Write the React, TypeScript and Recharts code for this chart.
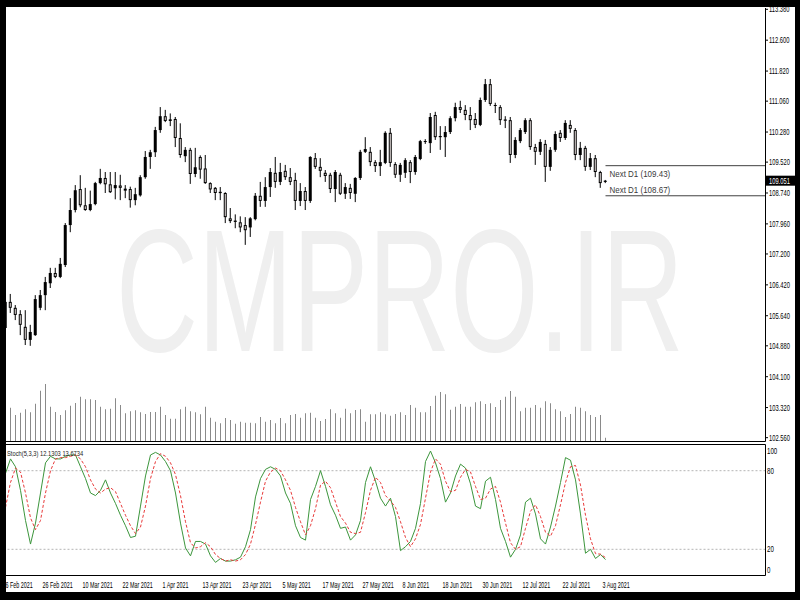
import React from 'react';
import { ComposedChart, Bar, Line, XAxis, YAxis, ReferenceLine } from 'recharts';

// ---------- data ----------
const OPEN = [
  105.33, 105.99, 105.84, 105.68, 105.36, 105.03, 105.15, 105.84, 106.16, 106.46,
  106.72, 106.62, 106.92, 107.93, 108.31, 108.84, 108.43, 108.31, 108.46, 108.99,
  109.12, 108.96, 108.86, 108.93, 108.80, 108.84, 108.56, 108.68, 109.14, 109.65,
  109.77, 110.33, 110.68, 110.56, 110.61, 110.13, 109.67, 109.83, 109.22, 109.65,
  109.36, 108.99, 108.87, 108.77, 108.74, 108.10, 108.04, 108.00, 107.93, 107.87,
  108.08, 108.67, 108.54, 108.89, 109.25, 109.02, 109.30, 109.14, 109.07, 108.54,
  108.79, 108.54, 109.62, 109.40, 109.25, 109.20, 108.84, 109.20, 108.72, 108.87,
  108.72, 109.12, 109.78, 109.78, 109.52, 109.42, 109.50, 110.26, 109.47, 109.20,
  109.25, 109.52, 109.27, 109.60, 110.03, 110.00, 110.71, 110.15, 110.15, 110.28,
  110.63, 110.91, 110.84, 110.71, 110.61, 110.46, 111.09, 111.49, 110.94, 110.91,
  110.59, 110.58, 109.70, 110.05, 110.28, 110.58, 109.90, 109.78, 109.98, 109.40,
  109.83, 110.26, 110.13, 110.46, 110.33, 109.70, 109.88, 109.40, 109.62, 109.27,
  109.02,
];
const HIGH = [
  106.05, 106.19, 105.91, 105.78, 105.78, 105.41, 106.16, 106.29, 106.62, 106.85,
  106.85, 107.10, 107.98, 108.61, 108.94, 109.19, 108.87, 108.80, 109.02, 109.35,
  109.27, 109.27, 109.27, 109.20, 108.94, 108.90, 108.87, 109.19, 109.80, 109.83,
  110.41, 110.91, 110.84, 110.75, 110.66, 110.50, 109.90, 109.88, 109.88, 109.69,
  109.70, 109.01, 108.89, 108.89, 108.76, 108.36, 108.20, 108.15, 108.13, 108.13,
  108.74, 109.02, 109.14, 109.37, 109.65, 109.50, 109.45, 109.37, 109.25, 108.99,
  108.89, 109.67, 109.75, 109.62, 109.32, 109.25, 109.32, 109.25, 108.99, 108.97,
  109.14, 109.83, 110.15, 109.90, 109.57, 109.83, 110.30, 110.38, 109.52, 109.50,
  109.62, 109.57, 109.70, 110.08, 110.10, 110.76, 110.79, 110.43, 110.43, 110.68,
  111.02, 111.07, 110.96, 110.91, 110.76, 111.15, 111.62, 111.62, 111.02, 110.96,
  110.68, 110.66, 110.15, 110.38, 110.63, 110.63, 109.98, 110.10, 110.08, 109.90,
  110.30, 110.33, 110.58, 110.58, 110.38, 110.03, 109.93, 109.75, 109.70, 109.30,
  109.07,
];
const LOW = [
  105.25, 105.71, 105.53, 105.15, 104.90, 104.88, 105.13, 105.78, 105.78, 106.34,
  106.59, 106.59, 106.87, 107.75, 108.25, 108.38, 108.29, 108.28, 108.43, 108.96,
  108.74, 108.74, 108.58, 108.56, 108.61, 108.37, 108.43, 108.65, 109.10, 109.35,
  109.65, 110.26, 110.53, 110.43, 109.90, 109.63, 109.52, 108.97, 109.14, 109.10,
  108.97, 108.74, 108.56, 108.56, 107.98, 107.98, 107.85, 107.75, 107.43, 107.63,
  108.05, 108.39, 108.39, 108.64, 108.87, 108.94, 109.07, 108.94, 108.31, 108.41,
  108.31, 108.49, 109.35, 109.14, 109.02, 108.74, 108.51, 108.69, 108.59, 108.59,
  108.51, 109.07, 109.75, 109.42, 109.27, 109.17, 109.47, 109.40, 109.12, 109.02,
  109.12, 108.99, 109.20, 109.57, 109.98, 109.75, 110.08, 109.83, 109.65, 110.23,
  110.55, 110.76, 110.58, 110.33, 110.38, 110.43, 111.04, 110.94, 110.76, 110.46,
  110.38, 109.50, 109.62, 110.00, 110.23, 109.83, 109.45, 109.70, 109.02, 109.30,
  109.78, 110.03, 110.08, 110.26, 109.57, 109.57, 109.30, 109.32, 109.14, 108.87,
  108.99,
];
const CLOSE = [
  105.99, 105.84, 105.66, 105.41, 105.03, 105.23, 106.06, 106.16, 106.49, 106.72,
  106.62, 106.95, 107.93, 108.31, 108.81, 108.43, 108.31, 108.46, 108.99, 109.12,
  108.96, 108.76, 108.94, 108.87, 108.85, 108.56, 108.71, 109.14, 109.65, 109.77,
  110.33, 110.68, 110.56, 110.60, 110.13, 109.70, 109.83, 109.22, 109.39, 109.33,
  108.99, 108.83, 108.74, 108.74, 108.13, 108.03, 108.02, 107.87, 107.80, 108.10,
  108.67, 108.54, 108.89, 109.27, 109.02, 109.27, 109.14, 109.02, 108.54, 108.79,
  108.54, 109.65, 109.40, 109.30, 109.17, 108.84, 109.27, 108.72, 108.89, 108.74,
  109.12, 109.78, 109.85, 109.52, 109.42, 109.52, 110.26, 109.50, 109.20, 109.45,
  109.57, 109.27, 109.65, 110.05, 110.05, 110.66, 110.15, 110.18, 110.28, 110.63,
  110.91, 110.84, 110.71, 110.58, 110.46, 111.09, 111.49, 110.99, 110.96, 110.58,
  110.58, 109.70, 110.08, 110.33, 110.58, 109.90, 109.78, 110.03, 109.40, 109.83,
  110.23, 110.13, 110.51, 110.36, 109.70, 109.88, 109.40, 109.62, 109.27, 108.99,
  109.051,
];
const VOLUME = [
  30, 33.3, 26, 28.3, 31.7, 28.7, 37.3, 50.3, 57, 34.3,
  29, 26, 30.7, 35.3, 38, 44.3, 41.7, 41.7, 41, 34.3,
  31.7, 32.3, 42.7, 36, 27.7, 29.7, 30.7, 28.7, 27, 29,
  29, 34.3, 26, 22.3, 22.3, 31.7, 34.3, 29.7, 28.7, 26.7,
  34.3, 23.3, 19.3, 17.7, 23, 21, 17.3, 19.3, 18.3, 18.3,
  17.7, 24, 19.3, 21, 17.7, 23, 17.7, 26, 27, 23.3,
  27.7, 28.3, 23.3, 20, 22, 31.7, 27.7, 23.3, 32.3, 27.7,
  31, 31.7, 19.3, 26.7, 26.7, 28.7, 26.7, 25.3, 27, 28.7,
  26, 36, 33.3, 28.7, 28.7, 35, 45.3, 49, 46.7, 31.3,
  34.3, 37, 34.3, 34.3, 38.7, 39.7, 37, 37.7, 34, 41,
  44.3, 50, 44.3, 29.7, 33.3, 33.3, 36, 33.3, 39.7, 37.7,
  31.7, 29.7, 24, 27, 34.3, 33.3, 29.7, 26, 24, 26,
  3.3,
];
const STOCH_K = [
  78, 89, 83, 65, 42, 24, 40, 63, 86, 91,
  89, 89, 91, 92, 92, 83, 74, 63, 61, 65,
  73, 63, 55, 46, 38, 29, 30, 53, 76, 92,
  94, 92, 87, 80, 63, 40, 21, 15, 26, 26,
  24, 15, 10, 13, 11, 11, 12, 14, 22, 35,
  60, 74, 81, 83, 81, 76, 63, 55, 38, 29,
  27, 58, 68, 80, 68, 54, 46, 36, 37, 27,
  31, 42, 71, 83, 72, 59, 53, 59, 45, 19,
  22, 26, 36, 55, 87, 95, 86, 74, 56, 63,
  76, 85, 82, 70, 53, 51, 72, 75, 58, 36,
  26, 14, 20, 31, 56, 59, 47, 28, 24, 37,
  53, 71, 90, 88, 73, 47, 17, 20, 13, 16,
  12.1303,
];
const STOCH_D = [
  52, 71, 82, 79, 63, 44, 35, 42, 63, 80,
  89, 90, 90, 91, 92, 89, 83, 73, 66, 63,
  66, 67, 64, 55, 46, 38, 32, 37, 53, 74,
  87, 93, 91, 86, 77, 61, 41, 25, 21, 22,
  25, 22, 16, 13, 11, 12, 11, 12, 16, 24,
  39, 56, 72, 79, 82, 80, 73, 65, 52, 41,
  31, 38, 51, 69, 72, 67, 56, 45, 40, 33,
  32, 33, 48, 65, 75, 71, 61, 57, 52, 41,
  29, 22, 28, 39, 59, 79, 89, 85, 72, 64,
  65, 75, 81, 79, 68, 58, 59, 66, 68, 56,
  40, 25, 20, 22, 36, 49, 54, 45, 33, 30,
  38, 54, 71, 83, 84, 69, 46, 28, 16.7, 16.3,
  13.6734,
];
const PRICE_TICKS = [113.38, 112.6, 111.82, 111.06, 110.28, 109.52, 108.74, 107.96, 107.2, 106.42, 105.64, 104.88, 104.1, 103.32, 102.56];
const STOCH_TICKS = [0, 20, 80, 100];
const TICK_BARS = [0, 8, 16, 24, 32, 40, 48, 56, 64, 72, 80, 88, 96, 104, 112, 120];
const TICK_LABELS = ['16 Feb 2021', '26 Feb 2021', '10 Mar 2021', '22 Mar 2021', '1 Apr 2021', '13 Apr 2021', '23 Apr 2021', '5 May 2021', '17 May 2021', '27 May 2021', '8 Jun 2021', '18 Jun 2021', '30 Jun 2021', '12 Jul 2021', '22 Jul 2021', '3 Aug 2021'];
const NEXT_D1_HIGH = 109.43;
const NEXT_D1_LOW = 108.67;
const PRICE_MIN = 102.463;
const PRICE_MAX = 113.413;
const SHIFT_SLOTS = 31; // empty chart-shift space on the right
const BAR_STEP = 5;

// ---------- derived table ----------
const N = OPEN.length;
const TOTAL = N + SHIFT_SLOTS;
const rows: any[] = [];
for (let n = 0; n < TOTAL; n++) {
  if (n < N) rows.push({ n, o: OPEN[n], h: HIGH[n], l: LOW[n], c: CLOSE[n], v: VOLUME[n], k: STOCH_K[n], d: STOCH_D[n] });
  else rows.push({ n });
}
const LAST = N - 1;
const LAST_SLOT = TOTAL - 1;

const FONT = '"Liberation Sans", Arial, sans-serif';

// condensed text (the reference's lettering is horizontally squeezed)
const CText = ({ x, y, size, sx, fill, children }: any) => (
  <text transform={`translate(${x} ${y}) scale(${sx} 1)`} x={0} y={0} fontSize={size} fontFamily={FONT} fill={fill}>
    {children}
  </text>
);

const candleRange = (r: any) => (r.o == null ? null : [r.l, r.h]);

const Candle = (props: any) => {
  const { x, y, width, height, payload } = props;
  if (!payload || payload.o == null || !isFinite(y) || !isFinite(height)) return null;
  const top = Math.min(y, y + height);
  const bot = Math.max(y, y + height);
  const span = payload.h - payload.l;
  const py = (p: number) => (span > 0 ? top + ((payload.h - p) / span) * (bot - top) : top);
  const cx = x + width / 2;
  const bull = payload.c >= payload.o;
  let bTop = Math.min(py(payload.o), py(payload.c));
  let bBot = Math.max(py(payload.o), py(payload.c));
  if (bBot - bTop < 1) {
    const m = (bTop + bBot) / 2;
    bTop = m - 0.5;
    bBot = m + 0.5;
  }
  return (
    <g>
      <line x1={cx} x2={cx} y1={top} y2={bot} stroke="#000" strokeWidth={1} />
      {bull ? (
        <rect x={cx - 1.5} y={bTop} width={3} height={bBot - bTop} fill="#000" />
      ) : (
        <rect x={cx - 1} y={bTop + 0.5} width={2} height={Math.max(bBot - bTop - 1, 0.3)} fill="#f1e9e7" stroke="#000" strokeWidth={1} />
      )}
    </g>
  );
};

const PriceTick = (props: any) => {
  const { x, y, payload } = props;
  return (
    <g>
      <line x1={x} x2={x + 2.5} y1={y} y2={y} stroke="#000" strokeWidth={1} />
      <CText x={x + 3.5} y={y + 3} size={8.5} sx={0.68} fill="#000">
        {Number(payload.value).toFixed(3)}
      </CText>
    </g>
  );
};

const StochTick = (props: any) => {
  const { x, y, payload } = props;
  const v = payload.value;
  const dy = v === 100 ? 9.5 : v === 0 ? -2.5 : 3;
  return (
    <CText x={x + 1.5} y={y + dy} size={8.5} sx={0.72} fill="#000">
      {v}
    </CText>
  );
};

const DateTick = (props: any) => {
  const { x, y, payload } = props;
  const idx = TICK_BARS.indexOf(payload.value);
  if (idx < 0) return null;
  return (
    <CText x={x - 3} y={y + 12.5} size={9} sx={0.6} fill="#000">
      {TICK_LABELS[idx]}
    </CText>
  );
};

const PriceBox = (props: any) => {
  const vb = props.viewBox;
  if (!vb) return null;
  const right = vb.x + vb.width;
  return (
    <g>
      <rect x={right + 0.5} y={vb.y - 5} width={29} height={10} fill="#000" />
      <CText x={right + 3.5} y={vb.y + 3.2} size={8.5} sx={0.68} fill="#fff">
        {props.txt}
      </CText>
    </g>
  );
};

const NextLabel = (props: any) => {
  const vb = props.viewBox;
  if (!vb) return null;
  return (
    <CText x={vb.x + 4} y={props.below ? vb.y + 11.5 : vb.y - 2.5} size={9.5} sx={0.84} fill="#3a3a3a">
      {props.txt}
    </CText>
  );
};

const nextLineShape = (p: any) => <line x1={p.x1} y1={p.y1} x2={p.x2 + BAR_STEP} y2={p.y2} stroke="#404040" strokeWidth={1} />;

const abs: React.CSSProperties = { position: 'absolute', left: 0, top: 0 };

export default function App() {
  return (
    <div style={{ position: 'absolute', left: 0, top: 0, width: 800, height: 600, background: '#fff', overflow: 'hidden' }}>
      {/* watermark */}
      <svg width={800} height={600} style={abs}>
        <text transform="translate(116 351) scale(0.649 1)" x={0} y={0} fontSize={175} fontFamily={FONT} fill="#efefef">
          CMPRO.IR
        </text>
      </svg>

      {/* volume */}
      <div style={abs}>
        <ComposedChart width={800} height={442} data={rows} margin={{ top: 8, right: 34.5, bottom: 1, left: 3 }}>
          <XAxis dataKey="n" type="category" scale="band" hide padding={{ left: 0, right: 2.5 }} />
          <YAxis type="number" hide domain={[0, 433]} allowDataOverflow />
          <Bar dataKey="v" barSize={1} fill="#8a8a8a" isAnimationActive={false} />
        </ComposedChart>
      </div>

      {/* candles */}
      <div style={abs}>
        <ComposedChart width={800} height={442} data={rows} margin={{ top: 8, right: 5, bottom: 0.5, left: 3 }}>
          <XAxis dataKey="n" type="category" scale="band" hide padding={{ left: 0, right: 2.5 }} />
          <YAxis
            yAxisId="p"
            orientation="right"
            type="number"
            domain={[PRICE_MIN, PRICE_MAX]}
            allowDataOverflow
            ticks={PRICE_TICKS}
            interval={0}
            width={29.5}
            tickSize={0}
            tickMargin={0}
            tickLine={false}
            axisLine={{ stroke: '#000' }}
            tick={<PriceTick />}
          />
          <Bar yAxisId="p" dataKey={candleRange} barSize={5} shape={<Candle />} isAnimationActive={false} />
          <ReferenceLine yAxisId="p" y={PRICE_MIN} stroke="#000" strokeWidth={1} />
          <ReferenceLine
            yAxisId="p"
            segment={[{ x: LAST, y: NEXT_D1_HIGH }, { x: LAST_SLOT, y: NEXT_D1_HIGH }]}
            shape={nextLineShape}
            label={<NextLabel txt={`Next D1 (${NEXT_D1_HIGH.toFixed(2)})`} below />}
          />
          <ReferenceLine
            yAxisId="p"
            segment={[{ x: LAST, y: NEXT_D1_LOW }, { x: LAST_SLOT, y: NEXT_D1_LOW }]}
            shape={nextLineShape}
            label={<NextLabel txt={`Next D1 (${NEXT_D1_LOW.toFixed(2)})`} />}
          />
          <ReferenceLine yAxisId="p" y={CLOSE[LAST]} stroke="none" label={<PriceBox txt={CLOSE[LAST].toFixed(3)} />} />
        </ComposedChart>
      </div>

      {/* stochastic */}
      <div style={abs}>
        <ComposedChart width={800} height={600} data={rows} margin={{ top: 444.5, right: 5, bottom: 8.5, left: 3 }}>
          <XAxis
            dataKey="n"
            type="category"
            scale="band"
            padding={{ left: 0, right: 2.5 }}
            height={16}
            axisLine={{ stroke: '#000' }}
            tickLine={false}
            tickSize={0}
            tickMargin={0}
            ticks={TICK_BARS}
            interval={0}
            tick={<DateTick />}
          />
          <YAxis
            orientation="right"
            type="number"
            domain={[0, 100]}
            ticks={STOCH_TICKS}
            interval={0}
            width={29.5}
            tickSize={0}
            tickMargin={0}
            tickLine={false}
            axisLine={{ stroke: '#000' }}
            tick={<StochTick />}
          />
          <ReferenceLine y={100} stroke="#000" strokeWidth={1} />
          <ReferenceLine y={80} stroke="#b4b4b4" strokeDasharray="2 2" />
          <ReferenceLine y={20} stroke="#b4b4b4" strokeDasharray="2 2" />
          <Line dataKey="k" type="linear" stroke="#3c963c" strokeWidth={1} dot={false} activeDot={false} isAnimationActive={false} />
          <Line dataKey="d" type="linear" stroke="#e83a3a" strokeWidth={1} strokeDasharray="3 2" dot={false} activeDot={false} isAnimationActive={false} />
        </ComposedChart>
      </div>

      {/* indicator caption */}
      <svg width={800} height={600} style={{ ...abs, pointerEvents: 'none' }}>
        <CText x={7} y={456} size={8} sx={0.72} fill="#222">
          {`Stoch(5,3,3) ${STOCH_K[LAST].toFixed(4)} ${STOCH_D[LAST].toFixed(4)}`}
        </CText>
      </svg>

      {/* black frame */}
      <div
        style={{
          ...abs,
          width: 800,
          height: 600,
          boxSizing: 'border-box',
          borderStyle: 'solid',
          borderColor: '#000',
          borderWidth: '7px 5px 8px 6px',
          pointerEvents: 'none',
        }}
      />
    </div>
  );
}
